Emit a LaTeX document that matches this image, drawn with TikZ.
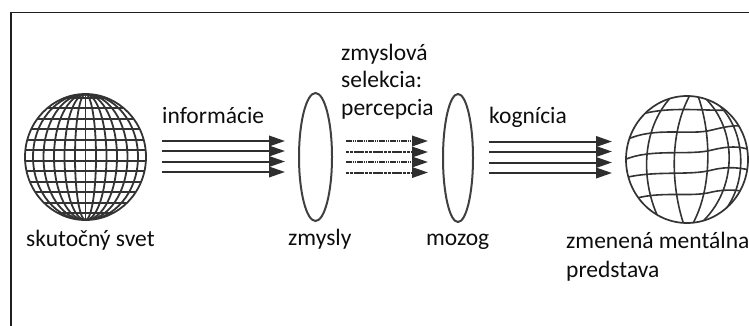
\documentclass[tikz,border=0pt]{standalone}
\usepackage{fontspec}
\setmainfont{Carlito}
\usetikzlibrary{arrows.meta,shapes.geometric}

\begin{document}
\begin{tikzpicture}[x=1pt,y=-1pt,
  lbl/.style={anchor=base west,inner sep=0pt,font=\fontsize{23.5}{28}\selectfont,text=black!95},
  grid/.style={line width=1.8pt,draw=black!80},
  lens/.style={ellipse,draw=black!75,line width=2pt,inner sep=0pt},
  flow/.style={line width=2pt,draw=black!82,-{Triangle[length=16pt,width=10.5pt,fill=black!82]}},
  sparse/.style={flow,dash pattern=on 1.6pt off 0.6pt},
  dense/.style={flow,dash pattern=on 3.2pt off 0.6pt}]
\useasboundingbox (0,0) rectangle (749,325);

% page frame (runs off the right and bottom edges)
\draw[line width=1.5pt,black!88] (11,330) -- (11,12.5) -- (760,12.5);

% ---- real world: regular globe
\node[ellipse,minimum width=121pt,minimum height=126pt,inner sep=0pt] (world) at (85.5,157) {};
\begin{scope}
  \clip (85.5,157) ellipse [x radius=60.5, y radius=63];
  \foreach \k in {-6,...,5}
    \draw[grid] (20,155.5+\k*10.5+5.25) -- (150,155.5+\k*10.5+5.25);
  \foreach \k in {1,...,5}
    \draw[grid] (85.5,157) ellipse [x radius=\k*10.5, y radius=63];
  \draw[grid] (85.5,90) -- (85.5,225);
\end{scope}
\draw[grid] (85.5,157) ellipse [x radius=60.5, y radius=63];

% ---- senses and brain as lenses
\node[lens,minimum width=33pt,minimum height=128pt] (senses) at (315.5,157) {};
\node[lens,minimum width=30pt,minimum height=128pt] (brain) at (458,158) {};

% ---- altered mental image: distorted globe
\node[ellipse,minimum width=122pt,minimum height=127pt,inner sep=0pt] (image) at (687,159.5) {};
\begin{scope}
  \clip (687,159.5) ellipse [x radius=61, y radius=63.5];
  % wavy parallels
  \draw[grid,line width=1.6pt] (630,118) .. controls (665,104) and (700,112) .. (745,110);
  \draw[grid,line width=1.6pt] (626,140) .. controls (655,126) and (690,136) .. (712,130) .. controls (728,126) and (740,124) .. (750,128);
  \draw[grid,line width=1.6pt] (624,160) .. controls (650,148) and (690,156) .. (712,150) .. controls (728,146) and (740,146) .. (750,150);
  \draw[grid,line width=1.6pt] (624,178) .. controls (655,170) and (690,176) .. (712,170) .. controls (728,166) and (740,168) .. (750,170);
  \draw[grid,line width=1.6pt] (630,200) .. controls (660,190) and (690,198) .. (712,192) .. controls (725,189) and (738,190) .. (748,192);
  % bent meridians
  \draw[grid,line width=1.6pt] (672,96) .. controls (640,130) and (640,185) .. (662,225);
  \draw[grid,line width=1.6pt] (690,95) .. controls (668,135) and (672,190) .. (684,225);
  \draw[grid,line width=1.6pt] (698,96) .. controls (712,135) and (712,190) .. (692,225);
  \draw[grid,line width=1.6pt] (705,98) .. controls (738,130) and (738,190) .. (700,224);
  \draw[grid,line width=1.6pt] (720,106) .. controls (748,135) and (748,190) .. (718,218);
\end{scope}
\draw[grid,line width=1.7pt] (687,159.5) ellipse [x radius=61, y radius=63.5];

% ---- flow of information
\foreach \i/\y in {1/141,2/151,3/161.5,4/172}{
  \coordinate (ia\i) at (162,\y);
  \coordinate (ib\i) at (285,\y);
  \draw[flow] (ia\i) -- (ib\i);
}
% ---- sensory selection (fragmented flow)
\foreach \i/\y/\st in {1/141/sparse,2/152/dense,3/162/sparse,4/172.5/dense}{
  \coordinate (pa\i) at (346,\y);
  \coordinate (pb\i) at (428,\y);
  \draw[\st] (pa\i) -- (pb\i);
}
% ---- cognition
\foreach \i/\y in {1/141.5,2/151.5,3/162.5,4/173}{
  \coordinate (ka\i) at (489,\y);
  \coordinate (kb\i) at (612,\y);
  \draw[flow] (ka\i) -- (kb\i);
}

% ---- labels
\node[lbl] (lworld) at (26,246) {skutočný svet};
\node[lbl] (linfo) at (162,123) {informácie};
\node[lbl] (lsel1) at (341,60) {zmyslová};
\node[lbl] (lsel2) at (341,87.5) {selekcia:};
\node[lbl] (lsel3) at (341,115) {percepcia};
\node[lbl] (lkog) at (489,123) {kognícia};
\node[lbl] (lsenses) at (288,245) {zmysly};
\node[lbl] (lbrain) at (426,245) {mozog};
\node[lbl] (limg1) at (566,248) {zmenená mentálna};
\node[lbl] (limg2) at (566,277) {predstava};
\end{tikzpicture}
\end{document}
